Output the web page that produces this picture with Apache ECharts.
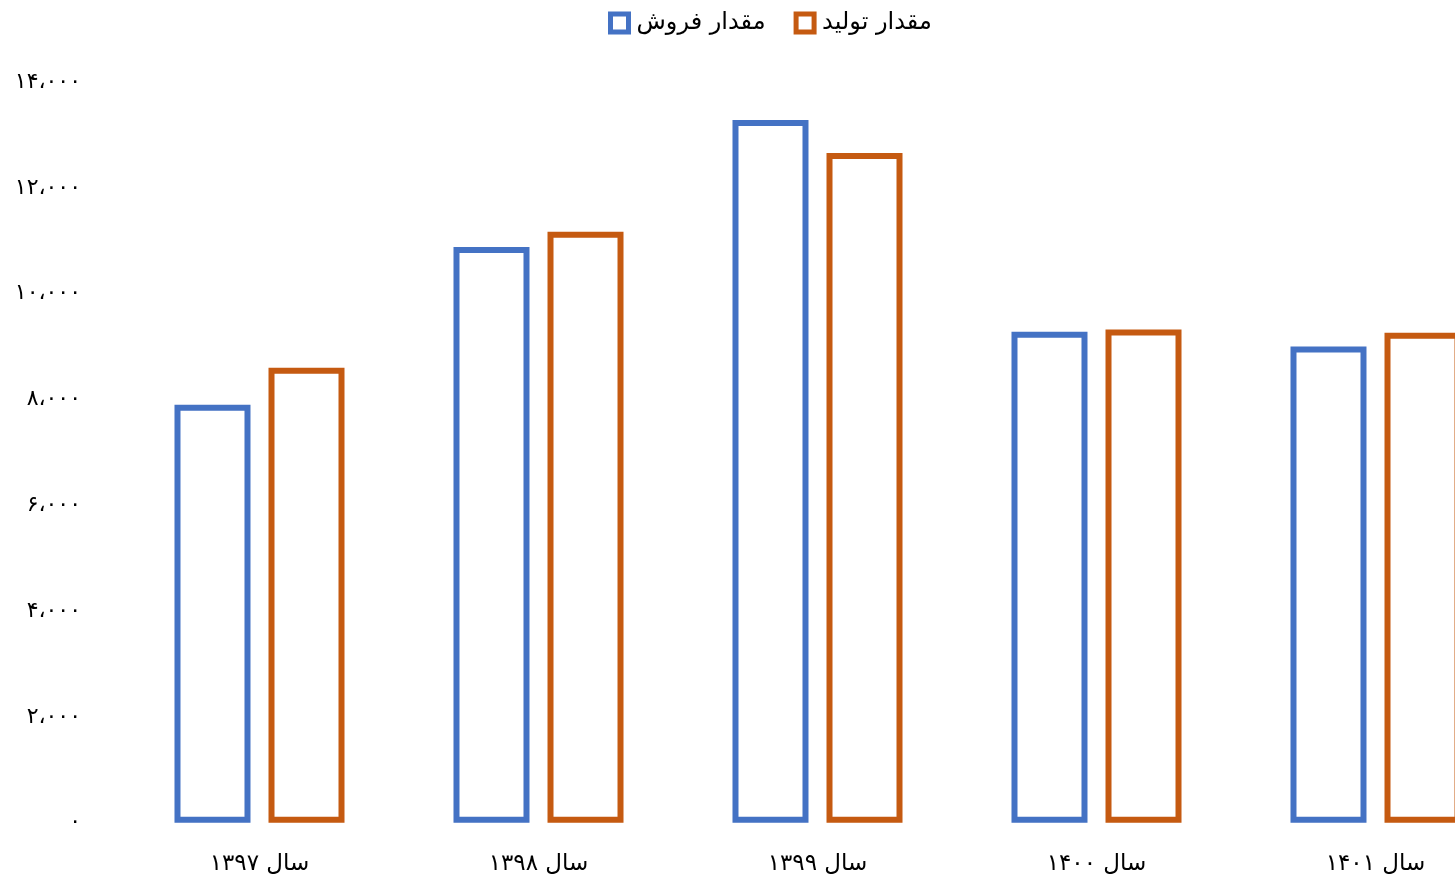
<!DOCTYPE html>
<html>
<head>
<meta charset="utf-8">
<script src="https://cdn.jsdelivr.net/npm/echarts@6/dist/echarts.min.js"></script>
<style>
  html, body { margin: 0; padding: 0; background: #fff; overflow: hidden; }
  /* the plot runs past the right edge of the window, so the last pair is cut */
  #chart { width: 1515px; height: 877px; }
</style>
</head>
<body>
<div id="chart"></div>
<script>
// Yearly sales and production amounts
const categories = ['سال ۱۳۹۷', 'سال ۱۳۹۸', 'سال ۱۳۹۹', 'سال ۱۴۰۰', 'سال ۱۴۰۱'];
const salesName = 'مقدار فروش';
const productionName = 'مقدار تولید';
const salesValues = [7900, 10880, 13280, 9280, 9000];
const productionValues = [8600, 11170, 12660, 9320, 9260];

const FONT = "'DejaVu Sans', sans-serif";
const BLUE = '#4472C4';
const ORANGE = '#C55A11';

// Persian digits with an Arabic comma as thousands separator
function toPersian(n) {
  const digits = '۰۱۲۳۴۵۶۷۸۹';
  const s = String(Math.round(n)).replace(/\B(?=(\d{3})+(?!\d))/g, '،');
  return s.replace(/\d/g, d => digits[+d]);
}

const chart = echarts.init(document.getElementById('chart'), null, { renderer: 'canvas' });

function barSeries(name, data, color) {
  return {
    name: name,
    type: 'bar',
    data: data,
    barWidth: 76,
    barGap: '23.7%',
    itemStyle: { color: '#ffffff', borderColor: color, borderWidth: 6 },
    emphasis: { disabled: true }
  };
}

chart.setOption({
  animation: false,
  backgroundColor: '#ffffff',
  textStyle: { fontFamily: FONT },
  legend: {
    top: 6,
    left: 603,
    icon: 'rect',
    itemWidth: 18,
    itemHeight: 18,
    itemGap: 28,
    itemStyle: { borderWidth: 5 },
    textStyle: { fontFamily: FONT, fontSize: 24, color: '#000', padding: [0, 0, 0, 3] },
    data: [salesName, productionName]
  },
  grid: { left: 120, right: 0, top: 82, height: 740.7, containLabel: false },
  xAxis: {
    type: 'category',
    data: categories,
    axisLine: { show: false },
    axisTick: { show: false },
    axisLabel: { fontFamily: FONT, fontSize: 23, color: '#000', margin: 30 }
  },
  yAxis: {
    type: 'value',
    min: 0,
    max: 14000,
    interval: 2000,
    splitLine: { show: false },
    axisLine: { show: false },
    axisTick: { show: false },
    axisLabel: {
      fontFamily: FONT, fontSize: 22, color: '#000', margin: 39,
      formatter: v => toPersian(v)
    }
  },
  series: [
    barSeries(salesName, salesValues, BLUE),
    barSeries(productionName, productionValues, ORANGE)
  ]
});
</script>
</body>
</html>
